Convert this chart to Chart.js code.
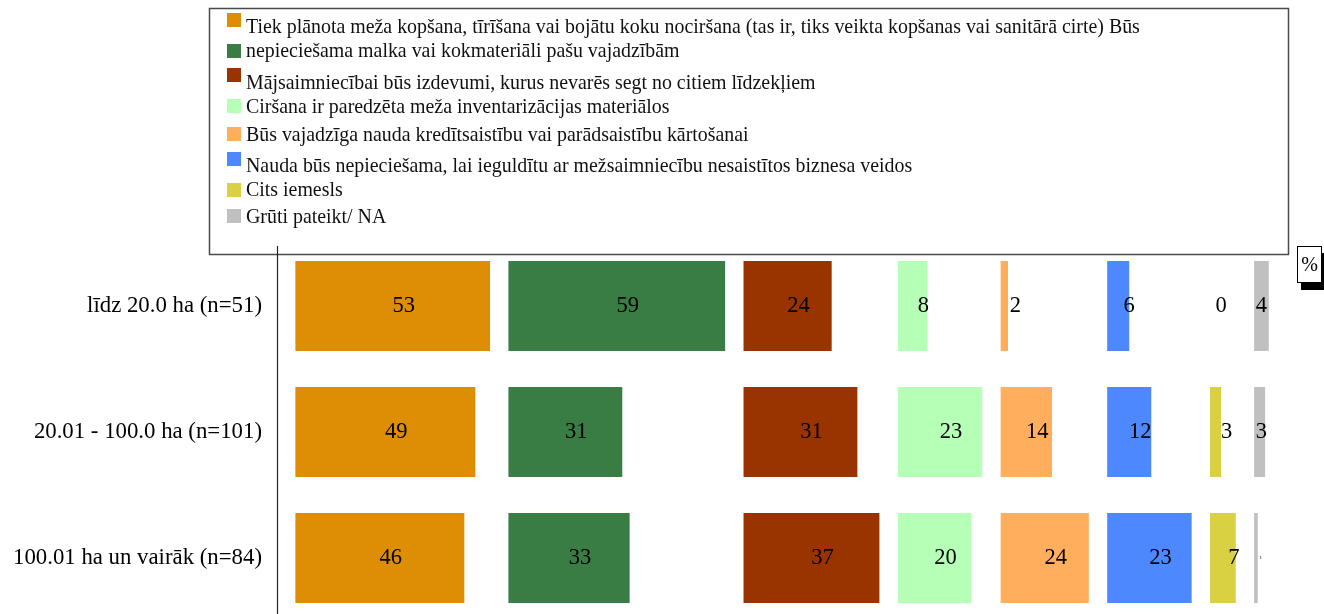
<!DOCTYPE html>
<html>
<head>
<meta charset="utf-8">
<script src="https://cdn.jsdelivr.net/npm/chart.js@4"></script>
<style>
  html, body { margin: 0; padding: 0; background: #fff; }
  #wrap { position: relative; width: 1324px; height: 614px; }
</style>
</head>
<body>
<div id="wrap"><canvas id="chart" width="1324" height="614"></canvas></div>
<script>
// Row categories (forest size groups)
const groups = ['līdz 20.0 ha (n=51)', '20.01 - 100.0 ha (n=101)', '100.01 ha un vairāk (n=84)'];

// Reasons (legend labels)
const reasons = [
    'Tiek plānota meža kopšana, tīrīšana vai bojātu koku nociršana (tas ir, tiks veikta kopšanas vai sanitārā cirte) Būs',
    'nepieciešama malka vai kokmateriāli pašu vajadzībām',
    'Mājsaimniecībai būs izdevumi, kurus nevarēs segt no citiem līdzekļiem',
    'Ciršana ir paredzēta meža inventarizācijas materiālos',
    'Būs vajadzīga nauda kredītsaistību vai parādsaistību kārtošanai',
    'Nauda būs nepieciešama, lai ieguldītu ar mežsaimniecību nesaistītos biznesa veidos',
    'Cits iemesls',
    'Grūti pateikt/ NA'
];

// Percent values per reason, one value per group
const plannedCare = [53, 49, 46];
const firewood = [59, 31, 33];
const householdCosts = [24, 31, 37];
const inventoryPlan = [8, 23, 20];
const debtPayment = [2, 14, 24];
const otherBusiness = [6, 12, 23];
const otherReason = [0, 3, 7];
const hardToSay = [4, 3, 1];

const seriesValues = [plannedCare, firewood, householdCosts, inventoryPlan, debtPayment, otherBusiness, otherReason, hardToSay];
const reasonColors = ['#DD8E05', '#397D45', '#993300', '#B6FFB6', '#FFAE5E', '#4D88FF', '#D9D044', '#C0C0C0'];

// Each reason gets its own column: start after the widest bar of the previous column plus a gap
const GAP = 5;
const columnStarts = [];
let pos = 0;
seriesValues.forEach(vals => {
    columnStarts.push(pos);
    pos += Math.max(...vals) + GAP;
});

const datasets = seriesValues.map((vals, k) => ({
    label: reasons[k],
    data: vals.map(v => [columnStarts[k], columnStarts[k] + v]),
    backgroundColor: reasonColors[k],
    borderWidth: 0,
    grouped: false,
    clip: false,
    barPercentage: 1,
    categoryPercentage: 0.714
}));

const FONT = '"Liberation Serif", "DejaVu Serif", serif';

// Legend layout (square top / text baseline for each row)
const legendSquareTops = [13, 44, 68, 99, 127, 152, 183, 209];
const legendBaselines = [33, 57, 89, 113, 141, 172, 196, 223];

const framePlugin = {
    id: 'frame',
    beforeDraw(chart) {
        const ctx = chart.ctx;
        ctx.save();
        ctx.fillStyle = '#fff';
        ctx.fillRect(0, 0, chart.width, chart.height);

        // legend box
        ctx.strokeStyle = '#4a4a4a';
        ctx.lineWidth = 1.5;
        ctx.strokeRect(209.5, 8.5, 1079, 246);

        ctx.font = '19.9px ' + FONT;
        ctx.textAlign = 'left';
        ctx.textBaseline = 'alphabetic';
        chart.data.datasets.forEach((ds, i) => {
            ctx.fillStyle = ds.backgroundColor;
            ctx.fillRect(227, legendSquareTops[i], 14, 14);
            ctx.fillStyle = '#111';
            ctx.fillText(ds.label, 246, legendBaselines[i]);
        });
        ctx.restore();
    },
    afterDraw(chart) {
        const ctx = chart.ctx;
        const x = Math.round(chart.chartArea.left) + 0.5;
        ctx.save();
        // vertical axis line
        ctx.strokeStyle = '#222';
        ctx.lineWidth = 1.2;
        ctx.beginPath();
        ctx.moveTo(x, 246);
        ctx.lineTo(x, chart.height);
        ctx.stroke();

        // "%" box with shadow
        ctx.fillStyle = '#000';
        ctx.fillRect(1301, 253, 26, 37);
        ctx.fillStyle = '#fff';
        ctx.fillRect(1297, 246, 25, 37);
        ctx.strokeStyle = '#000';
        ctx.lineWidth = 1;
        ctx.strokeRect(1297.5, 246.5, 24, 36);
        ctx.fillStyle = '#000';
        ctx.font = '20px ' + FONT;
        ctx.textAlign = 'center';
        ctx.textBaseline = 'middle';
        ctx.fillText('%', 1309.5, 266);
        ctx.restore();
    }
};

const valueLabels = {
    id: 'valueLabels',
    afterDatasetsDraw(chart) {
        const ctx = chart.ctx;
        const limit = chart.chartArea.right - 22;
        ctx.save();
        ctx.fillStyle = '#000';
        ctx.textAlign = 'center';
        ctx.textBaseline = 'middle';
        chart.data.datasets.forEach((ds, di) => {
            chart.getDatasetMeta(di).data.forEach((bar, i) => {
                const v = seriesValues[di][i];
                const text = String(v);
                const left = Math.min(bar.x, bar.base);
                const right = Math.max(bar.x, bar.base);
                let x;
                if (v === 1) {
                    // the reference prints this one almost invisibly small
                    ctx.font = '5px ' + FONT;
                    x = right + 3;
                } else {
                    ctx.font = '22.5px ' + FONT;
                    const w = ctx.measureText(text).width;
                    x = Math.min((left + right) / 2 + 11, limit - w / 2);
                }
                ctx.fillText(text, x, bar.y);
            });
        });
        ctx.restore();
    }
};

new Chart(document.getElementById('chart'), {
    type: 'bar',
    data: { labels: groups, datasets: datasets },
    options: {
        indexAxis: 'y',
        responsive: false,
        animation: false,
        events: [],
        layout: { padding: { top: 306, bottom: 56, left: 0, right: 35 } },
        plugins: {
            legend: { display: false },
            tooltip: { enabled: false }
        },
        scales: {
            x: {
                display: false,
                min: -GAP,
                max: 270.5
            },
            y: {
                type: 'category',
                offset: false,
                grid: { display: false, drawTicks: false },
                border: { display: false },
                ticks: {
                    color: '#000',
                    padding: 15,
                    font: { family: FONT, size: 22.8 }
                },
                afterFit(scale) { scale.width = 277; }
            }
        }
    },
    plugins: [framePlugin, valueLabels]
});
</script>
</body>
</html>
